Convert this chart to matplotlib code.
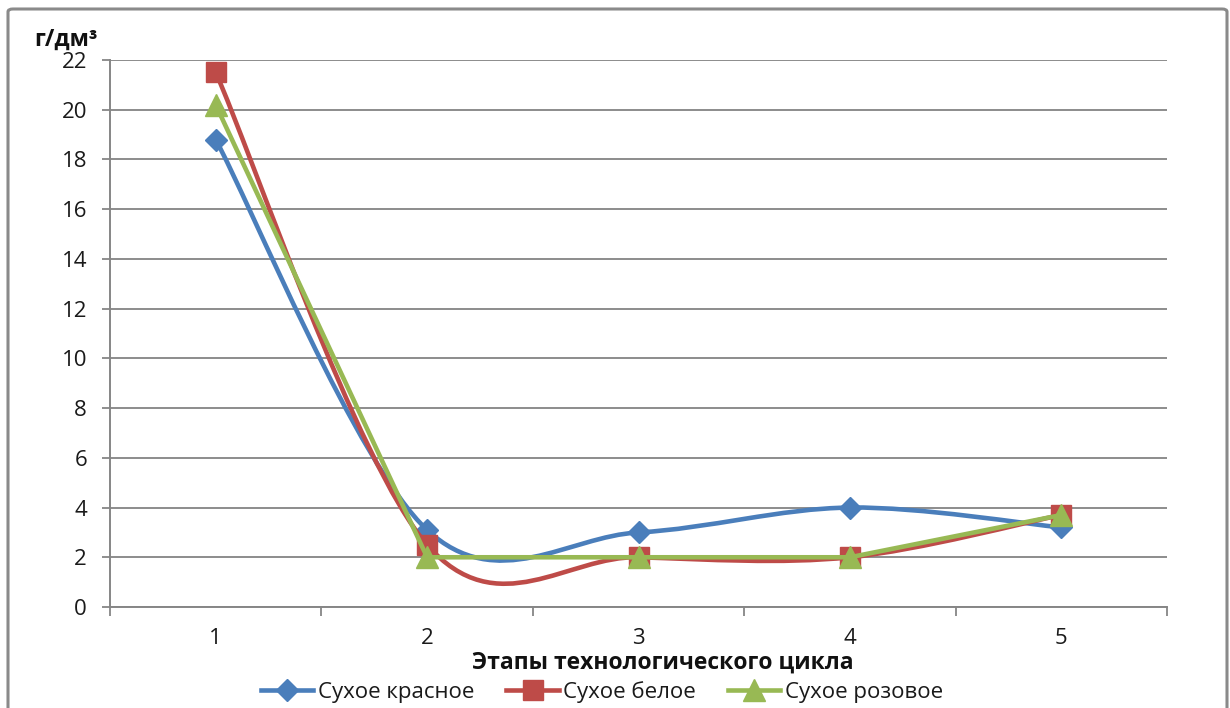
import matplotlib
matplotlib.use("Agg")
import matplotlib.pyplot as plt
from matplotlib.path import Path
from matplotlib.patches import PathPatch, FancyBboxPatch
from matplotlib.lines import Line2D
import numpy as np

plt.rcParams['font.family'] = ['Open Sans', 'DejaVu Sans']

# ---- data ----
categories = ["1", "2", "3", "4", "5"]
series_names = ["Сухое красное", "Сухое белое", "Сухое розовое"]
red_dry = [18.8, 3.1, 3.0, 4.0, 3.2]      # Сухое красное
white_dry = [21.5, 2.5, 2.0, 2.0, 3.7]    # Сухое белое
rose_dry = [20.2, 2.0, 2.0, 2.0, 3.7]     # Сухое розовое
y_ticks = [0, 2, 4, 6, 8, 10, 12, 14, 16, 18, 20, 22]
x_label = "Этапы технологического цикла"
y_label = "г/дм³"

colors = ["#4A7EBB", "#BE4B48", "#98B954"]
markers = ["D", "s", "^"]
msizes = [11, 15, 16]
smooth = [True, True, False]


def smooth_path(xs, ys):
    """Excel-like smoothed line: cubic Bezier segments with Catmull-Rom control points."""
    pts = np.column_stack([xs, ys]).astype(float)
    n = len(pts)
    verts = [tuple(pts[0])]
    codes = [Path.MOVETO]
    for i in range(n - 1):
        p0 = pts[i - 1] if i > 0 else pts[i]
        p1 = pts[i]
        p2 = pts[i + 1]
        p3 = pts[i + 2] if i + 2 < n else pts[i + 1]
        c1 = p1 + (p2 - p0) / 6.0
        c2 = p2 - (p3 - p1) / 6.0
        verts += [tuple(c1), tuple(c2), tuple(p2)]
        codes += [Path.CURVE4] * 3
    return Path(verts, codes)


fig = plt.figure(figsize=(12.3, 7.08), dpi=100)
ax = fig.add_axes([110 / 1230, 1 - 607 / 708, (1167 - 110) / 1230, (607 - 60) / 708])

xpos = np.arange(1, len(categories) + 1)
all_series = [red_dry, white_dry, rose_dry]

for k, (vals, col, mk, ms, sm) in enumerate(zip(all_series, colors, markers, msizes, smooth)):
    z = 3 + 2 * k
    if sm:
        patch = PathPatch(smooth_path(xpos, vals), facecolor="none", edgecolor=col,
                          lw=3.3, zorder=z, capstyle="round", joinstyle="round")
        ax.add_patch(patch)
    else:
        ax.plot(xpos, vals, color=col, lw=3.3, zorder=z, solid_capstyle="round")
    ax.plot(xpos, vals, ls="none", marker=mk, ms=ms, color=col, mec=col, zorder=z + 1)

txtcol = "#1A1A1A"
ax.set_xlim(0.5, len(categories) + 0.5)
ax.set_ylim(0, 22)
ax.set_yticks(y_ticks)
ax.set_yticklabels([str(v) for v in y_ticks])
ax.set_xticks(xpos)
ax.set_xticklabels(categories)
ax.set_xticks(np.arange(0.5, len(categories) + 1), minor=True)
ax.tick_params(axis="x", which="major", length=0, pad=15, labelsize=16, labelcolor=txtcol)
ax.tick_params(axis="x", which="minor", length=6.5, width=1.3, color="#868686", direction="out")
ax.tick_params(axis="y", length=5.5, width=1.3, color="#868686", pad=11, labelsize=16, labelcolor=txtcol)

ax.grid(axis="y", color="#8C8C8C", lw=1.4)
ax.set_axisbelow(True)
for s in ["top", "right"]:
    ax.spines[s].set_visible(False)
for s in ["left", "bottom"]:
    ax.spines[s].set_color("#868686")
    ax.spines[s].set_linewidth(1.4)

fig.text(663 / 1230, 1 - 663 / 708, x_label, ha="center", va="center",
         fontsize=16.5, fontweight="bold", color="#111111")
fig.text(34 / 1230, 1 - 40 / 708, y_label, ha="left", va="center",
         fontsize=16.5, fontweight="bold", color="#111111")

handles = [Line2D([], [], color=c, lw=3.3, marker=m, ms=ms, mec=c)
           for c, m, ms in zip(colors, markers, msizes)]
fig.legend(handles, series_names, loc="center", bbox_to_anchor=(602 / 1230, 1 - 692 / 708),
           ncol=3, frameon=False, fontsize=16, handlelength=2.35, handletextpad=0.2,
           columnspacing=1.45, labelcolor=txtcol, borderpad=0.1)

# outer chart border
border = FancyBboxPatch((8 / 1230, -0.05), (1227 - 8) / 1230, (1 - 9 / 708) + 0.05,
                        boxstyle="round,pad=0,rounding_size=0.004", transform=fig.transFigure,
                        facecolor="none", edgecolor="#8A8A8A", lw=2.2, clip_on=False)
fig.patches.append(border)

fig.savefig("out.png", dpi=100, facecolor="white")
